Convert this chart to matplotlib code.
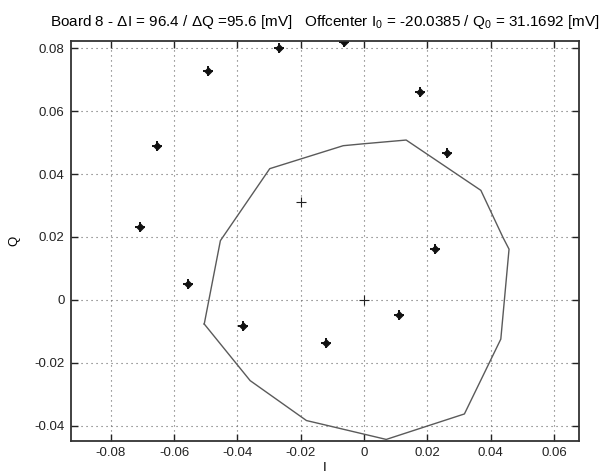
import matplotlib.pyplot as plt
import numpy as np

plt.rcParams['font.family'] = ['Liberation Sans', 'DejaVu Sans']
plt.rcParams['mathtext.fontset'] = 'custom'
plt.rcParams['mathtext.rm'] = 'Liberation Sans'
plt.rcParams['axes.unicode_minus'] = False

# Measured constellation points (I, Q) in V
meas_I = [-0.0708, -0.0653, -0.0493, -0.0268, -0.0063, 0.0176, 0.0261,
          -0.0556, 0.0224, 0.0111, -0.0381, -0.0119]
meas_Q = [0.0231, 0.0490, 0.0726, 0.0802, 0.0819, 0.0660, 0.0466,
          0.0050, 0.0162, -0.0048, -0.0083, -0.0137]

# Offcenter point and origin
center_I = [-0.0200385, 0.0]
center_Q = [0.0311692, 0.0]

# Outline polygon (I, Q)
ring_I = [-0.0505, -0.0360, -0.0182, -0.0127, 0.0070, 0.0317, 0.0432, 0.0458,
          0.0439, 0.0369, 0.0133, -0.0003, -0.0066, -0.0298, -0.0454, -0.0505]
ring_Q = [-0.0077, -0.0257, -0.0384, -0.0397, -0.0444, -0.0363, -0.0125, 0.0161,
          0.0198, 0.0348, 0.0508, 0.0496, 0.0490, 0.0417, 0.0188, -0.0077]

x_ticks = [-0.08, -0.06, -0.04, -0.02, 0, 0.02, 0.04, 0.06]
x_labels = ['-0.08', '-0.06', '-0.04', '-0.02', '0', '0.02', '0.04', '0.06']
y_ticks = [-0.04, -0.02, 0, 0.02, 0.04, 0.06, 0.08]
y_labels = ['-0.04', '-0.02', '0', '0.02', '0.04', '0.06', '0.08']

fig = plt.figure(figsize=(6.03, 4.76), dpi=100)
ax = fig.add_axes([0.1172, 0.0742, 0.8435, 0.8397])

# outline
ax.plot(ring_I, ring_Q, color='#5a5a5a', linewidth=1.0)

# measured points: bold plus with a filled centre
ax.plot(meas_I, meas_Q, linestyle='none', marker='+', markersize=7,
        markeredgewidth=1.4, color='#111111')
ax.plot(meas_I, meas_Q, linestyle='none', marker='D', markersize=3.5,
        color='#111111')

# offcenter and origin: thin plus
ax.plot(center_I, center_Q, linestyle='none', marker='+', markersize=7,
        markeredgewidth=0.8, color='#222222')

ax.set_xlim(-0.0927, 0.0680)
ax.set_ylim(-0.0448, 0.0823)
ax.set_xticks(x_ticks)
ax.set_xticklabels(x_labels)
ax.set_yticks(y_ticks)
ax.set_yticklabels(y_labels)
ax.tick_params(direction='in', top=True, right=True, length=5, width=1,
               labelsize=9.5, colors='#222222', pad=4.5)
ax.grid(True, linestyle=(0, (1, 3.5)), color='#666666', linewidth=0.8)
for s in ax.spines.values():
    s.set_color('#333333')
    s.set_linewidth(1.3)

ax.set_xlabel('I', fontsize=9.5, labelpad=2)
ax.set_ylabel('Q', fontsize=9.5, labelpad=10)
ax.set_title(r'Board 8 - ΔI = 96.4 / ΔQ =95.6 [mV]   Offcenter I$_0$ = -20.0385 / Q$_0$ = 31.1692 [mV]',
             fontsize=11, pad=11)

fig.savefig('out.png', dpi=100)
